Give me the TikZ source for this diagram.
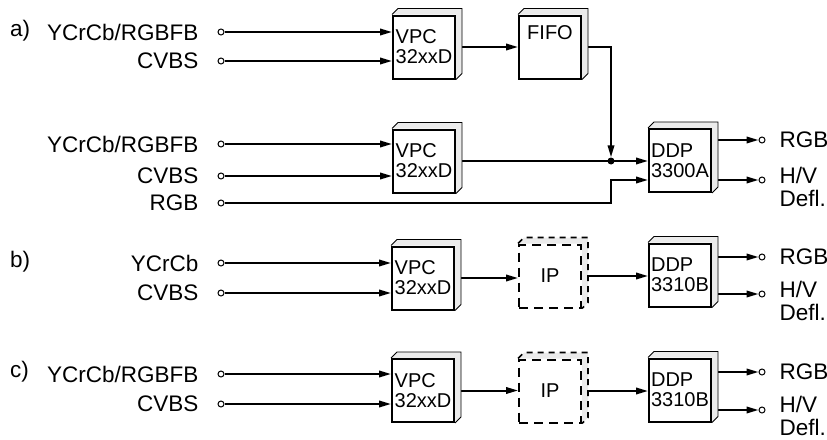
\documentclass[tikz,border=0pt]{standalone}
\usepackage{fontspec}
\setmainfont{Liberation Sans}
\usetikzlibrary{arrows.meta,positioning,calc}

\pgfdeclarelayer{wires}
\pgfdeclarelayer{faces}
\pgfsetlayers{wires,faces,main}

\tikzset{
  chip/.style={draw, line width=2pt, fill=white, minimum width=62pt,
    minimum height=63pt, inner sep=2pt, align=left,
    font=\fontsize{20}{20}\selectfont},
  ipchip/.style={chip, dash pattern=on 9pt off 6pt},
  face/.style={draw=black, line width=0.9pt},
  port/.style={circle, draw, fill=white, line width=1pt, inner sep=0pt,
    minimum size=6pt},
  dot/.style={circle, fill, inner sep=0pt, minimum size=7pt},
  lbl/.style={inner sep=0pt, font=\fontsize{22.5}{23}\selectfont},
  wire/.style={line width=2pt},
  sig/.style={wire, -{Triangle[length=12pt,width=6.5pt]}},
}

% top and right face of a chip
\newcommand{\chipfaces}[2][]{%
  \begin{pgfonlayer}{faces}
    \fill[black!8] (#2.north west) -- ++(6,-6) -- ($(#2.north east)+(6,-6)$)
      -- ($(#2.south east)+(6,-6)$) -- (#2.south east) -- (#2.north east) -- cycle;
    \draw[face,#1] (#2.north west) -- ++(6,-6) -- ($(#2.north east)+(6,-6)$)
      -- ($(#2.south east)+(6,-6)$) -- (#2.south east);
  \end{pgfonlayer}}

\begin{document}
\begin{tikzpicture}[x=1pt,y=-1pt]
\useasboundingbox (0,0) rectangle (827,439);

%%% a)

\node[lbl,anchor=west] (ta) at (10,31) {a)};

\node[port] (pA1) at (221,32) {};
\node[port] (pA2) at (221,61) {};
\node[port] (pA3) at (221,144) {};
\node[port] (pA4) at (221,176) {};
\node[port] (pA5) at (221,203) {};
\node[lbl,left=19pt of pA1] (lA1) {YCrCb/RGBFB};
\node[lbl,left=19pt of pA2] (lA2) {CVBS};
\node[lbl,left=19pt of pA3] (lA3) {YCrCb/RGBFB};
\node[lbl,left=19pt of pA4] (lA4) {CVBS};
\node[lbl,left=19pt of pA5] (lA5) {RGB};

\node[chip] (vpcA1) at (424,47) {VPC\\32xxD};
\node[chip,text depth=29pt] (fifo) at (550,47) {FIFO};
\node[chip] (vpcA2) at (424,161) {VPC\\32xxD};
\node[chip] (ddpA) at (680,160.5) {DDP\\3300A};
\chipfaces{vpcA1}
\chipfaces{fifo}
\chipfaces{vpcA2}
\chipfaces{ddpA}

\node[dot] (jA) at (611,161) {};
\coordinate (kA) at (611,180);

\node[port] (oA1) at (762,140) {};
\node[port] (oA2) at (762,180) {};
\node[lbl,right=14pt of oA1] (tA1) {RGB};
\node[lbl,right=14pt of oA2,yshift=-6.5pt,align=left] (tA2) {H/V\\Defl.};

\begin{pgfonlayer}{wires}
\draw[sig] (pA1) -- (pA1 -| vpcA1.west);
\draw[sig] (pA2) -- (pA2 -| vpcA1.west);
\draw[sig] (vpcA1) -- (fifo);
\draw[sig] (fifo.east) -| (jA);
\draw[sig] (pA3) -- (pA3 -| vpcA2.west);
\draw[sig] (pA4) -- (pA4 -| vpcA2.west);
\draw[sig] (vpcA2.east) -- (vpcA2.east -| ddpA.west);
\draw[sig] (pA5) -| (kA) -- (kA -| ddpA.west);
\draw[sig] (oA1 -| ddpA.east) -- (oA1);
\draw[sig] (oA2 -| ddpA.east) -- (oA2);
\end{pgfonlayer}

%%% b)

\node[lbl,anchor=west] (tb) at (10,262) {b)};

\node[port] (pB1) at (221,263) {};
\node[port] (pB2) at (221,293) {};
\node[lbl,left=19pt of pB1] (lB1) {YCrCb};
\node[lbl,left=19pt of pB2] (lB2) {CVBS};

\node[chip] (vpcB) at (423,278) {VPC\\32xxD};
\node[ipchip,align=center] (ipB) at (550,276) {IP};
\node[chip] (ddpB) at (680,275) {DDP\\3310B};
\chipfaces{vpcB}
\chipfaces[dash pattern=on 6pt off 5pt,line width=1.6pt]{ipB}
\chipfaces{ddpB}

\node[port] (oB1) at (762,257) {};
\node[port] (oB2) at (762,294) {};
\node[lbl,right=14pt of oB1] (tB1) {RGB};
\node[lbl,right=14pt of oB2,yshift=-6.5pt,align=left] (tB2) {H/V\\Defl.};

\begin{pgfonlayer}{wires}
\draw[sig] (pB1) -- (pB1 -| vpcB.west);
\draw[sig] (pB2) -- (pB2 -| vpcB.west);
\draw[sig] (vpcB.east) -- (vpcB.east -| ipB.west);
\draw[sig] (ipB.east) -- (ipB.east -| ddpB.west);
\draw[sig] (oB1 -| ddpB.east) -- (oB1);
\draw[sig] (oB2 -| ddpB.east) -- (oB2);
\end{pgfonlayer}

%%% c)

\node[lbl,anchor=west] (tc) at (10,372) {c)};

\node[port] (pC1) at (221,374) {};
\node[port] (pC2) at (221,404) {};
\node[lbl,left=19pt of pC1] (lC1) {YCrCb/RGBFB};
\node[lbl,left=19pt of pC2] (lC2) {CVBS};

\node[chip] (vpcC) at (423,390.5) {VPC\\32xxD};
\node[ipchip,align=center] (ipC) at (550,391) {IP};
\node[chip] (ddpC) at (680,390) {DDP\\3310B};
\chipfaces{vpcC}
\chipfaces[dash pattern=on 6pt off 5pt,line width=1.6pt]{ipC}
\chipfaces{ddpC}

\node[port] (oC1) at (762,372) {};
\node[port] (oC2) at (762,410) {};
\node[lbl,right=14pt of oC1] (tC1) {RGB};
\node[lbl,right=14pt of oC2,yshift=-6pt,align=left] (tC2) {H/V\\Defl.};

\begin{pgfonlayer}{wires}
\draw[sig] (pC1) -- (pC1 -| vpcC.west);
\draw[sig] (pC2) -- (pC2 -| vpcC.west);
\draw[sig] (vpcC.east) -- (vpcC.east -| ipC.west);
\draw[sig] (ipC.east) -- (ipC.east -| ddpC.west);
\draw[sig] (oC1 -| ddpC.east) -- (oC1);
\draw[sig] (oC2 -| ddpC.east) -- (oC2);
\end{pgfonlayer}

\end{tikzpicture}
\end{document}
